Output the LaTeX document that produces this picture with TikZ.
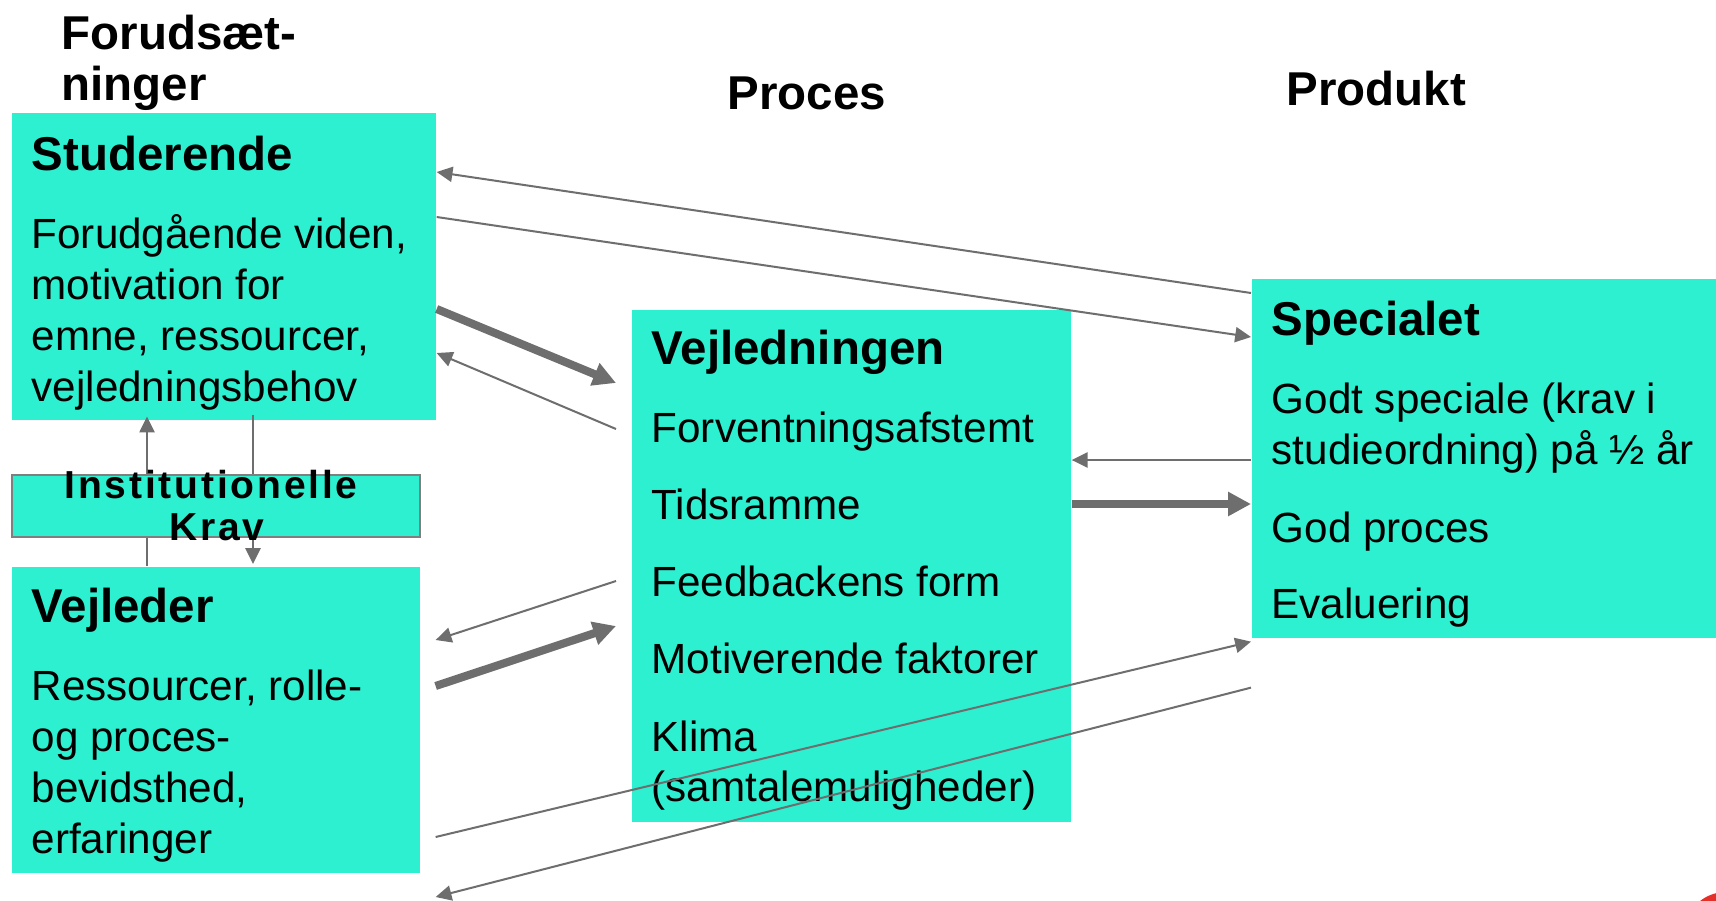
\documentclass[tikz,border=0pt]{standalone}
\usepackage{fontspec}
\setmainfont{Liberation Sans}
\usetikzlibrary{arrows.meta,calc}
\definecolor{turq}{HTML}{2DF0D0}
\definecolor{conn}{HTML}{6E6E6E}
\definecolor{kravborder}{HTML}{7F7F7F}
\definecolor{logored}{HTML}{E5302A}
\begin{document}
\begin{tikzpicture}[x=0.01cm,y=-0.01cm,
  box/.style={fill=turq, draw=none, inner sep=0pt, anchor=north west},
  head/.style={font=\fontsize{13.5pt}{14.5pt}\selectfont\bfseries, anchor=base west, inner sep=0pt},
  body/.style={font=\fontsize{12pt}{14.5pt}\selectfont, anchor=base west, inner sep=0pt},
  kravtext/.style={font=\fontsize{11.1pt}{12pt}\selectfont\bfseries\addfontfeature{LetterSpace=7.2}, anchor=base, inner sep=0pt},
  thinarrow/.style={draw=conn, line width=0.57pt, -{Triangle[length=4.5pt,width=4.3pt]}},
  thickarrow/.style={draw=conn, line width=2.3pt, -{Triangle[length=6.5pt,width=6.5pt]}},
]
\useasboundingbox (0,0) rectangle (1716,900);

% boxes
\node[box, minimum width=4.24cm, minimum height=3.07cm] (S) at (11,112) {};
\node[box, minimum width=4.08cm, minimum height=3.06cm] (V) at (11,566) {};
\node[box, minimum width=4.39cm, minimum height=5.12cm] (P) at (631,309) {};
\node[box, minimum width=4.65cm, minimum height=3.59cm] (R) at (1251,278) {};

% column headings
\node[head] (h1) at (61,49) {Forudsæt-};
\node[head] (h2) at (61,100) {ninger};
\node[head] (h3) at (727,109) {Proces};
\node[head] (h4) at (1286,105) {Produkt};

% Studerende
\node[head] (s0) at (31,170) {Studerende};
\node[body] (s1) at (31,248) {Forudgående viden,};
\node[body] (s2) at (31,299) {motivation for};
\node[body] (s3) at (31,350) {emne, ressourcer,};
\node[body] (s4) at (31,401) {vejledningsbehov};

% Vejleder
\node[head] (v0) at (31,622) {Vejleder};
\node[body] (v1) at (31,700) {Ressourcer, rolle-};
\node[body] (v2) at (31,751) {og proces-};
\node[body] (v3) at (31,802) {bevidsthed,};
\node[body] (v4) at (31,853) {erfaringer};

% Vejledningen
\node[head] (p0) at (651,364) {Vejledningen};
\node[body] (p1) at (651,442) {Forventningsafstemt};
\node[body] (p2) at (651,519) {Tidsramme};
\node[body] (p3) at (651,596) {Feedbackens form};
\node[body] (p4) at (651,673) {Motiverende faktorer};
\node[body] (p5) at (651,751) {Klima};
\node[body] (p6) at (651,801) {(samtalemuligheder)};

% Specialet
\node[head] (r0) at (1271,335) {Specialet};
\node[body] (r1) at (1271,413) {Godt speciale (krav i};
\node[body] (r2) at (1271,464) {studieordning) på ½ år};
\node[body] (r3) at (1271,542) {God proces};
\node[body] (r4) at (1271,618) {Evaluering};

% connectors
\draw[thinarrow] ($(R.north west)+(0,15)$) -- ($(S.north east)+(0,60)$);
\draw[thinarrow] ($(S.north east)+(0,105)$) -- ($(R.north west)+(0,59)$);
\draw[thickarrow] ($(S.north east)+(0,197)$) -- ($(P.north west)+(-15,74)$);
\draw[thinarrow] ($(P.north west)+(-15,120)$) -- ($(S.north east)+(0,241)$);
\draw[thinarrow] ($(R.north west)+(0,182)$) -- ($(P.north east)+(0,151)$);
\draw[thickarrow] ($(P.north east)+(0,195)$) -- ($(R.north west)+(0,226)$);
\draw[thinarrow] ($(P.north west)+(-15,272)$) -- ($(V.north east)+(15,74)$);
\draw[thickarrow] ($(V.north east)+(15,120)$) -- ($(P.north west)+(-15,317)$);
\draw[thinarrow] ($(V.north east)+(15,271)$) -- ($(R.south west)+(0,3)$);
\draw[thinarrow] ($(R.south west)+(0,49)$) -- ($(V.north east)+(15,331)$);
\draw[thinarrow] ($(S.south west)+(242,-6)$) -- ($(V.north west)+(242,-2)$);
\draw[thinarrow] ($(V.north west)+(136,0)$) -- ($(S.south west)+(136,-4)$);

% Institutionelle Krav
\node[box, draw=kravborder, line width=0.57pt, minimum width=4.08cm, minimum height=0.62cm] (K) at (11,474) {};
\node[kravtext] (k1) at (211,498) {Institutionelle};
\node[kravtext] (k2) at (217,540) {Krav};

% red corner shape
\fill[logored] (1726,934) circle[radius=0.42cm];
\end{tikzpicture}
\end{document}
